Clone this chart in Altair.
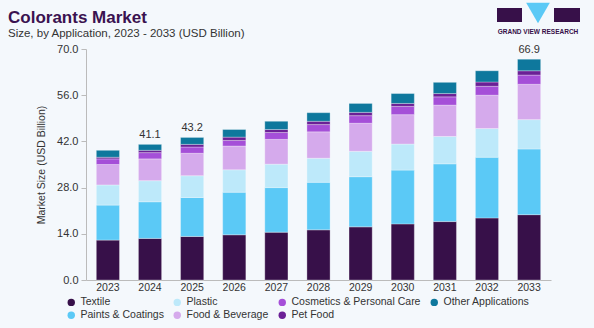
import altair as alt
import pandas as pd

years = ["2023", "2024", "2025", "2026", "2027", "2028", "2029", "2030", "2031", "2032", "2033"]

textile    = [12.1, 12.6, 13.2, 13.7, 14.5, 15.2, 16.1, 17.0, 17.7, 18.8, 19.8]
paints     = [10.6, 11.1, 11.8, 12.9, 13.5, 14.4, 15.2, 16.3, 17.5, 18.4, 19.9]
plastic    = [6.1, 6.4, 6.6, 6.8, 7.1, 7.3, 7.7, 7.9, 8.3, 8.7, 8.9]
food       = [6.2, 6.6, 6.8, 7.2, 7.5, 8.0, 8.5, 8.9, 9.5, 10.1, 10.7]
cosmetics  = [1.7, 1.9, 1.9, 1.7, 2.1, 2.2, 2.3, 2.5, 2.5, 2.7, 2.8]
petfood    = [0.5, 0.7, 0.8, 1.0, 0.9, 1.0, 1.0, 0.9, 1.0, 1.3, 1.3]
other      = [2.1, 1.8, 2.1, 2.3, 2.5, 2.6, 2.7, 3.0, 3.4, 3.4, 3.5]

series_names = ["Textile", "Paints & Coatings", "Plastic", "Food & Beverage",
                "Cosmetics & Personal Care", "Pet Food", "Other Applications"]
series_values = [textile, paints, plastic, food, cosmetics, petfood, other]
series_colors = ["#371049", "#5BC9F6", "#BDE9FA", "#D5AAEC", "#A54FD8", "#6B2096", "#0E789D"]

legend_order = ["Textile", "Plastic", "Cosmetics & Personal Care", "Other Applications",
                "Paints & Coatings", "Food & Beverage", "Pet Food"]

label_years = ["2024", "2025", "2033"]
label_texts = ["41.1", "43.2", "66.9"]

title_text = "Colorants Market"
subtitle_text = "Size, by Application, 2023 - 2033 (USD Billion)"
logo_text = "GRAND VIEW RESEARCH"

rows = []
for i, (name, vals) in enumerate(zip(series_names, series_values)):
    for y, v in zip(years, vals):
        rows.append({"year": y, "series": name, "value": v, "order": i})
df = pd.DataFrame(rows)

totals = {y: sum(vals[k] for vals in series_values) for k, y in enumerate(years)}
lab_df = pd.DataFrame({"year": label_years, "total": [totals[y] for y in label_years], "text": label_texts})

color_map = dict(zip(series_names, series_colors))

FONT = "Liberation Sans"

x_enc = alt.X("year:N", sort=years, title=None,
              scale=alt.Scale(paddingInner=0.45, paddingOuter=0.245),
              axis=alt.Axis(labelAngle=0, ticks=False, domainColor="#BBBBBB",
                            labelColor="#333333", labelFontSize=10.5, labelPadding=2,
                            labelFont=FONT))

bars = alt.Chart(df).mark_bar(stroke="#FFFFFF", strokeWidth=0.6, strokeOpacity=0.5).encode(
    x=x_enc,
    y=alt.Y("value:Q", stack="zero", title="Market Size (USD Billion)",
            scale=alt.Scale(domain=[0, 70], nice=False),
            axis=alt.Axis(values=[0, 14, 28, 42, 56, 70], format=".1f", grid=False,
                          domainColor="#BBBBBB", tickColor="#BBBBBB", tickSize=5,
                          labelColor="#333333", labelFontSize=11, labelPadding=3,
                          labelFont=FONT, titleFont=FONT, titleFontSize=10.5,
                          titleFontWeight="normal", titleColor="#333333", titlePadding=10)),
    color=alt.Color("series:N",
                    scale=alt.Scale(domain=legend_order, range=[color_map[s] for s in legend_order]),
                    legend=alt.Legend(title=None, orient="none", legendX=-20, legendY=248,
                                      direction="horizontal", columns=4, columnPadding=8,
                                      rowPadding=2, symbolType="circle", symbolSize=55,
                                      symbolStrokeWidth=0, labelFontSize=10.5, labelFont=FONT,
                                      labelColor="#333333", labelOffset=4)),
    order=alt.Order("order:Q", sort="ascending"),
)

labels = alt.Chart(lab_df).mark_text(baseline="bottom", dy=-4, fontSize=11, font=FONT,
                                     color="#333333").encode(
    x=alt.X("year:N", sort=years),
    y=alt.Y("total:Q"),
    text="text:N",
)

one = pd.DataFrame({"a": [0]})

title_mark = alt.Chart(one).mark_text(text=title_text, align="left", baseline="alphabetic",
                                      fontSize=17, fontWeight="bold", font=FONT,
                                      color="#3A1250").encode(
    x=alt.value(-78), y=alt.value(-26))
subtitle_mark = alt.Chart(one).mark_text(text=subtitle_text, align="left", baseline="alphabetic",
                                         fontSize=11.5, font=FONT, color="#333333").encode(
    x=alt.value(-78), y=alt.value(-12))

# Logo decoration
logo_l = alt.Chart(one).mark_rect(color="#371049").encode(
    x=alt.value(411), x2=alt.value(436), y=alt.value(-41), y2=alt.value(-27))
logo_r = alt.Chart(one).mark_rect(color="#371049").encode(
    x=alt.value(468), x2=alt.value(494), y=alt.value(-41), y2=alt.value(-27))
logo_t = alt.Chart(one).mark_point(shape="triangle-down", filled=True,
                                   color="#5BC9F6", opacity=1, size=560).encode(
    x=alt.value(452), y=alt.value(-36))
logo_txt = alt.Chart(one).mark_text(text=logo_text, fontSize=6.5,
                                    fontWeight="bold", font=FONT,
                                    color="#371049").encode(
    x=alt.value(452), y=alt.value(-17))

chart = alt.layer(bars, labels, title_mark, subtitle_mark, logo_l, logo_r, logo_t, logo_txt).properties(
    width=465, height=231,
    background="#F4F8FC",
    padding={"left": 86, "top": 49, "right": 43, "bottom": 48},
    autosize=alt.AutoSizeParams(type="none"),
).configure_view(stroke=None)

chart.save("out.html", embed_options={"renderer": "svg", "actions": False})
